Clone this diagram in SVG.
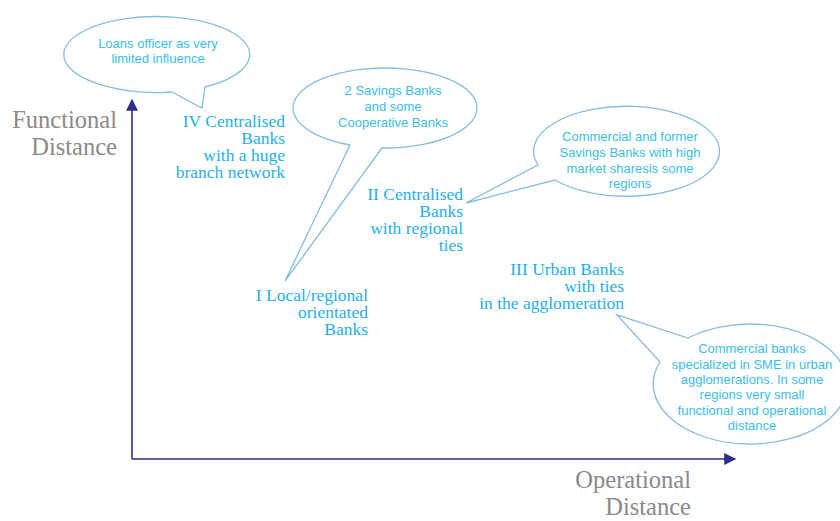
<svg xmlns="http://www.w3.org/2000/svg" width="840" height="521" viewBox="0 0 840 521">
<style>
.bubble{fill:#fff;stroke:#86bddd;stroke-width:1.3;stroke-linejoin:miter}
.bt{font-family:"Liberation Sans",Arial,sans-serif;font-size:13px;fill:#3cbdea;text-anchor:middle}
.lab{font-family:"Liberation Serif","Times New Roman",serif;font-size:17.5px;fill:#1fb0e8;text-anchor:end}
.ax{font-family:"Liberation Serif","Times New Roman",serif;font-size:24.5px;fill:#8a8a8a;text-anchor:end}
.axis{stroke:#2e2e8c;stroke-width:1.6;fill:none}
</style>
<defs>
<marker id="ah2" viewBox="0 0 10 10" refX="9" refY="5" markerWidth="14" markerHeight="12" markerUnits="userSpaceOnUse" orient="auto">
<path d="M0,0 L10,5 L0,10 Z" fill="#2e2e8c"/>
</marker>
</defs>
<g id="connectors">
<path class="axis" d="M132,459 L132,100" marker-end="url(#ah2)"/>
<path class="axis" d="M132,459 L735,459" marker-end="url(#ah2)"/>
</g>
<g id="axis-y-label">
<text class="ax" x="117" y="128">Functional</text>
<text class="ax" x="117" y="155">Distance</text>
</g>
<g id="axis-x-label">
<text class="ax" x="691" y="488">Operational</text>
<text class="ax" x="691" y="515">Distance</text>
</g>
<g id="callout-loans">
<path class="bubble" d="M172,92 L202,108 L205,87 A93,38 0 1 0 172,92 Z"/>
<text class="bt" x="158" y="48">Loans officer as very</text>
<text class="bt" x="158" y="63">limited influence</text>
</g>
<g id="callout-savings">
<path class="bubble" d="M382,148 L285,281 L350,145 A92,40 0 1 1 382,148 Z"/>
<text class="bt" x="393" y="95">2 Savings Banks</text>
<text class="bt" x="393" y="111">and some</text>
<text class="bt" x="393" y="127">Cooperative Banks</text>
</g>
<g id="callout-commercial">
<path class="bubble" d="M538,165 L466,203 L555,180 A93,45 0 1 0 538,165 Z"/>
<text class="bt" x="630" y="141">Commercial and former</text>
<text class="bt" x="630" y="157">Savings Banks with high</text>
<text class="bt" x="630" y="173">market sharesis some</text>
<text class="bt" x="630" y="188">regions</text>
</g>
<g id="callout-sme">
<path class="bubble" d="M660,362 L617,315 L688,338 A97,60 0 1 1 660,362 Z"/>
<text class="bt" x="752" y="353">Commercial banks</text>
<text class="bt" x="752" y="369">specialized in SME in urban</text>
<text class="bt" x="752" y="384">agglomerations. In some</text>
<text class="bt" x="752" y="399">regions very small</text>
<text class="bt" x="752" y="415">functional and operational</text>
<text class="bt" x="752" y="430">distance</text>
</g>
<g id="node-iv">
<text class="lab" x="285" y="127">IV Centralised</text>
<text class="lab" x="285" y="144">Banks</text>
<text class="lab" x="285" y="161">with a huge</text>
<text class="lab" x="285" y="178">branch network</text>
</g>
<g id="node-ii">
<text class="lab" x="463" y="200">II Centralised</text>
<text class="lab" x="463" y="217">Banks</text>
<text class="lab" x="463" y="234">with regional</text>
<text class="lab" x="463" y="251">ties</text>
</g>
<g id="node-i">
<text class="lab" x="368" y="301">I Local/regional</text>
<text class="lab" x="368" y="318">orientated</text>
<text class="lab" x="368" y="335">Banks</text>
</g>
<g id="node-iii">
<text class="lab" x="624" y="275">III Urban Banks</text>
<text class="lab" x="624" y="292">with ties</text>
<text class="lab" x="624" y="309">in the agglomeration</text>
</g>
</svg>
